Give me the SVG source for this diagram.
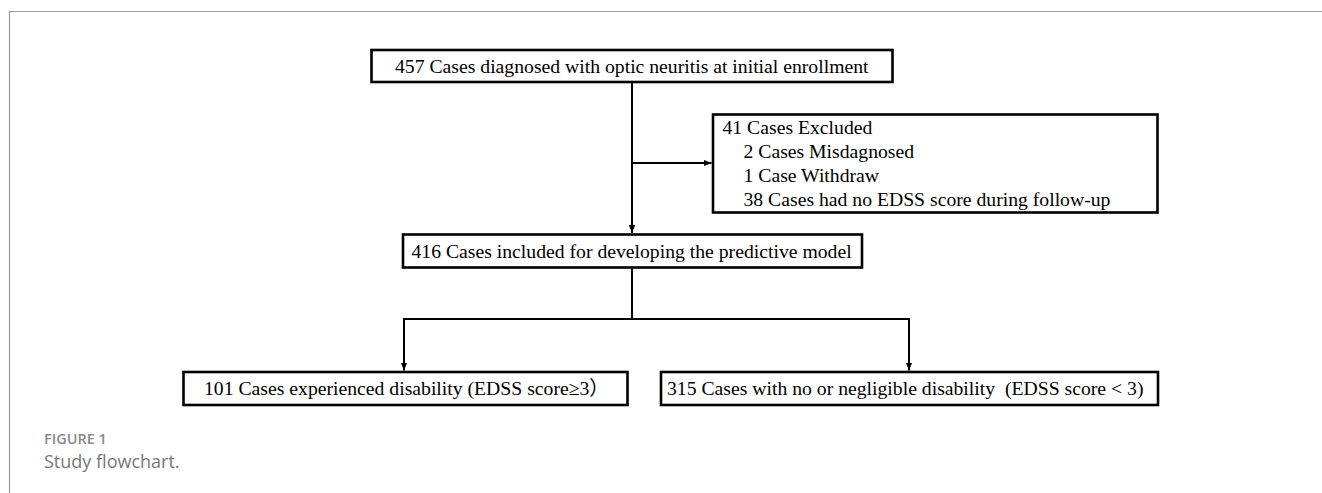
<svg xmlns="http://www.w3.org/2000/svg" width="1322" height="493" viewBox="0 0 1322 493">
  <style>
    .box { fill: #ffffff; stroke: #000000; stroke-width: 2.6; }
    .t { font-family: "Liberation Serif", "Times New Roman", "Noto Sans CJK SC", serif; font-size: 19.7px; fill: #000000; }
    .conn { fill: none; stroke: #000000; stroke-width: 2; }
    .cap1 { font-family: "Open Sans", "Liberation Sans", sans-serif; font-size: 14.5px; font-weight: 600; fill: #8a8a8a; }
    .cap2 { font-family: "Open Sans", "Liberation Sans", sans-serif; font-size: 18px; fill: #777777; }
  </style>
  <defs>
    <marker id="arrow" markerUnits="userSpaceOnUse" markerWidth="10" markerHeight="10" refX="8" refY="4" orient="auto">
      <path d="M0,0.8 L8,4 L0,7.2 Z" fill="#000000"/>
    </marker>
  </defs>
  <rect width="1322" height="493" fill="#ffffff"/>
  <path d="M9.5,500 V11.5 H1330" fill="none" stroke="#9a9a9a" stroke-width="1.2"/>

  <g id="connectors">
    <path class="conn" d="M632,82 V233" marker-end="url(#arrow)"/>
    <path class="conn" d="M632,163 H711.5" marker-end="url(#arrow)"/>
    <path class="conn" d="M632,267.5 V319"/>
    <path class="conn" d="M404,319 H909"/>
    <path class="conn" d="M404,318 V370.5" marker-end="url(#arrow)"/>
    <path class="conn" d="M909,318 V370.5" marker-end="url(#arrow)"/>
  </g>

  <g id="node-enrolled">
    <rect class="box" x="371.5" y="50" width="521" height="32"/>
    <text class="t" x="395" y="73">457 Cases diagnosed with optic neuritis at initial enrollment</text>
  </g>

  <g id="node-excluded">
    <rect class="box" x="713" y="114.5" width="444.5" height="98"/>
    <text class="t" x="722.5" y="134">41 Cases Excluded</text>
    <text class="t" x="743.5" y="158">2 Cases Misdagnosed</text>
    <text class="t" x="743.5" y="182">1 Case Withdraw</text>
    <text class="t" x="743.5" y="206">38 Cases had no EDSS score during follow-up</text>
  </g>

  <g id="node-included">
    <rect class="box" x="403" y="234.5" width="459" height="33"/>
    <text class="t" x="411.5" y="258">416 Cases included for developing the predictive model</text>
  </g>

  <g id="node-disability">
    <rect class="box" x="183.5" y="372" width="444" height="33"/>
    <text class="t" x="204" y="395">101 Cases experienced disability (EDSS score≥3）</text>
  </g>

  <g id="node-no-disability">
    <rect class="box" x="661" y="372" width="497" height="33"/>
    <text class="t" x="667" y="395" xml:space="preserve">315 Cases with no or negligible disability  (EDSS score &lt; 3)</text>
  </g>

  <g id="caption">
    <text class="cap1" x="44" y="444">FIGURE 1</text>
    <text class="cap2" x="44" y="468">Study flowchart.</text>
  </g>
</svg>
